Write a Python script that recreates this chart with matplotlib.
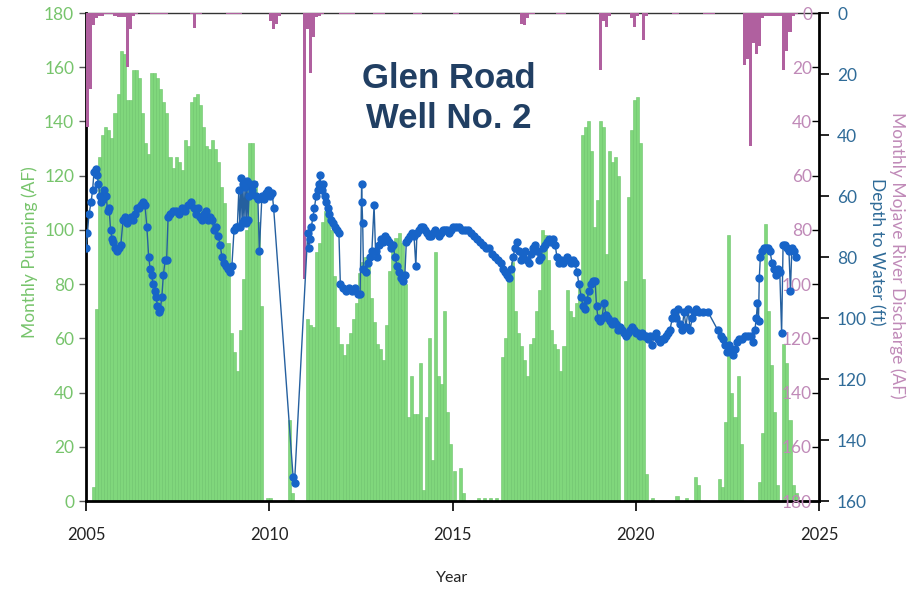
import numpy as np
import matplotlib.pyplot as plt

# Monthly pumping (AF), one list per year starting Jan
pump_2005 = [0, 0, 5, 71, 127, 135, 138, 137, 134, 143, 150, 166]
pump_2006 = [165, 148, 148, 159, 159, 156, 143, 132, 128, 158, 158, 156]
pump_2007 = [152, 147, 143, 127, 123, 127, 125, 122, 133, 131, 147, 149]
pump_2008 = [150, 146, 138, 131, 130, 133, 130, 125, 116, 110, 95, 62]
pump_2009 = [55, 48, 63, 82, 100, 132, 132, 118, 103, 72, 0, 1]
pump_2010 = [1, 0, 0, 0, 0, 0, 30, 3, 0, 0, 0, 0]
pump_2011 = [67, 65, 64, 92, 95, 103, 107, 105, 100, 83, 64, 58]
pump_2012 = [54, 58, 62, 67, 73, 84, 88, 90, 90, 75, 66, 58]
pump_2013 = [56, 52, 65, 85, 93, 97, 99, 95, 80, 31, 46, 32]
pump_2014 = [32, 51, 4, 31, 60, 15, 92, 46, 43, 70, 33, 21]
pump_2015 = [11, 0, 12, 3, 0, 0, 0, 0, 1, 0, 1, 0]
pump_2016 = [1, 0, 1, 0, 53, 60, 83, 88, 70, 62, 57, 52]
pump_2017 = [46, 58, 60, 70, 78, 100, 98, 89, 63, 58, 56, 48]
pump_2018 = [57, 78, 70, 68, 73, 80, 135, 138, 140, 129, 101, 111]
pump_2019 = [140, 138, 91, 129, 125, 127, 120, 0, 81, 112, 137, 148]
pump_2020 = [149, 132, 82, 10, 0, 1, 0, 0, 0, 0, 0, 0]
pump_2021 = [0, 2, 0, 0, 1, 0, 0, 9, 6, 0, 0, 0]
pump_2022 = [0, 0, 0, 8, 5, 29, 98, 40, 31, 46, 21, 0]
pump_2023 = [0, 0, 0, 0, 7, 25, 102, 70, 50, 33, 6, 0]
pump_2024 = [58, 51, 30, 6, 3]

# Monthly Mojave River discharge (AF)
flow_2005 = [42, 28, 4.5, 2, 1, 1, 0.5, 0.5, 0.5, 1, 1.5, 1.5]
flow_2006 = [1.5, 20, 6, 1, 0.5, 0, 0, 0, 0, 0.5, 0.5, 0.5]
flow_2007 = [0.5, 0.5, 0.5, 0, 0, 0, 0, 0, 0, 0, 0.5, 5.6]
flow_2008 = [0.5, 0.5, 0, 0, 0, 0, 0, 0, 0, 0, 0.5, 0.5]
flow_2009 = [0.5, 0.5, 0.5, 0, 0, 0, 0, 0, 0, 0, 0, 0]
flow_2010 = [3, 6, 4, 1, 0, 0, 0, 0, 0, 0, 0, 98]
flow_2011 = [6, 22, 9, 1.5, 1, 0.5, 0, 0, 0, 0, 0, 0.5]
flow_2012 = [0.5, 0.5, 0.5, 0.5, 0, 0, 0, 0, 0, 0, 0.5, 0.5]
flow_2013 = [0.5, 0.5, 0, 0, 0, 0, 0, 0, 0, 0, 0, 0.5]
flow_2014 = [0.5, 0.5, 0, 0, 0, 0, 0, 0, 0, 0, 0, 0]
flow_2015 = [0.5, 0.5, 0, 0, 0, 0, 0, 0, 0, 0, 0, 0]
flow_2016 = [0, 0, 0, 0, 0, 0, 0, 0, 0, 0, 4, 4.5]
flow_2017 = [2, 0.5, 0.5, 0, 0, 0, 0, 0, 0, 0, 0.5, 0.5]
flow_2018 = [0.5, 0, 0, 0, 0, 0, 0, 0, 0, 0, 0, 0]
flow_2019 = [21, 3, 5, 1, 0, 0, 0, 0, 0, 0, 2, 5]
flow_2020 = [1, 0, 10, 1, 0, 0, 0, 0, 0, 0, 0, 0]
flow_2021 = [0.5, 0.5, 0, 0, 0, 0, 0, 0, 0, 0, 0.5, 0.5]
flow_2022 = [0.5, 0.5, 0, 0, 0, 0, 0, 0, 0, 0, 0, 19]
flow_2023 = [17, 49, 11, 15, 12, 2, 1, 1, 1, 1, 1, 1]
flow_2024 = [21, 14, 7, 1, 0.5]

# Depth to water (ft) measurements
well_year = [
    2005.00, 2005.04, 2005.08, 2005.14, 2005.18, 2005.22, 2005.26, 2005.30, 2005.34, 2005.38,
    2005.42, 2005.46, 2005.50, 2005.55, 2005.59, 2005.63, 2005.67, 2005.71, 2005.75, 2005.79,
    2005.85, 2005.90, 2005.95, 2006.01, 2006.06, 2006.12, 2006.17, 2006.23, 2006.28, 2006.34,
    2006.39, 2006.45, 2006.50, 2006.56, 2006.61, 2006.66, 2006.71, 2006.75, 2006.79, 2006.83,
    2006.87, 2006.91, 2006.95, 2006.99, 2007.03, 2007.07, 2007.11, 2007.16, 2007.20, 2007.24,
    2007.29, 2007.37, 2007.46, 2007.54, 2007.62, 2007.70, 2007.78, 2007.86, 2007.95, 2008.00,
    2008.06, 2008.11, 2008.17, 2008.22, 2008.27, 2008.33, 2008.38, 2008.44, 2008.49, 2008.55,
    2008.60, 2008.66, 2008.71, 2008.77, 2008.82, 2008.88, 2008.93, 2008.98, 2009.04, 2009.09,
    2009.13, 2009.17, 2009.20, 2009.23, 2009.26, 2009.28, 2009.31, 2009.34, 2009.37, 2009.39,
    2009.42, 2009.45, 2009.47, 2009.53, 2009.58, 2009.64, 2009.69, 2009.73, 2009.80, 2009.86,
    2009.91, 2009.97, 2010.02, 2010.08, 2010.12, 2010.65, 2010.69,
    2011.05, 2011.08, 2011.11, 2011.15, 2011.19, 2011.23, 2011.28, 2011.32, 2011.36, 2011.38,
    2011.43, 2011.47, 2011.51, 2011.55, 2011.59, 2011.63, 2011.68, 2011.74, 2011.79, 2011.85,
    2011.90, 2011.94, 2012.01, 2012.09, 2012.18, 2012.26, 2012.34, 2012.42, 2012.48, 2012.52,
    2012.53, 2012.55, 2012.57, 2012.64, 2012.69, 2012.75, 2012.80, 2012.86, 2012.90, 2012.94,
    2012.99, 2013.05, 2013.10, 2013.16, 2013.21, 2013.27, 2013.32, 2013.38, 2013.43, 2013.49,
    2013.54, 2013.59, 2013.65, 2013.70, 2013.74, 2013.79, 2013.84, 2013.89, 2013.95, 2014.00,
    2014.03, 2014.09, 2014.14, 2014.19, 2014.25, 2014.30, 2014.36, 2014.41, 2014.47, 2014.52,
    2014.58, 2014.63, 2014.69, 2014.74, 2014.80, 2014.85, 2014.90, 2014.96,
    2015.01, 2015.10, 2015.18, 2015.26, 2015.34, 2015.42, 2015.50, 2015.59, 2015.67, 2015.75,
    2015.83, 2015.91, 2016.00, 2016.08, 2016.16, 2016.24, 2016.32, 2016.38, 2016.43, 2016.49,
    2016.54, 2016.60, 2016.65, 2016.71, 2016.76, 2016.82, 2016.87, 2016.92, 2016.98, 2017.03,
    2017.09, 2017.14, 2017.20, 2017.25, 2017.31, 2017.36, 2017.41, 2017.47, 2017.52, 2017.58,
    2017.63, 2017.69, 2017.74, 2017.80, 2017.85, 2017.91, 2017.96, 2018.01, 2018.07, 2018.12,
    2018.18, 2018.23, 2018.28, 2018.34, 2018.40, 2018.45, 2018.51, 2018.56, 2018.61, 2018.67,
    2018.72, 2018.78, 2018.83, 2018.89, 2018.93, 2018.97, 2019.02, 2019.08, 2019.13, 2019.19,
    2019.24, 2019.30, 2019.35, 2019.41, 2019.46, 2019.52, 2019.57, 2019.63, 2019.68, 2019.73,
    2019.79, 2019.84, 2019.90, 2019.95, 2020.01, 2020.06, 2020.12, 2020.17, 2020.22, 2020.28,
    2020.33, 2020.39, 2020.44, 2020.50, 2020.55, 2020.61, 2020.66, 2020.72, 2020.77, 2020.83,
    2020.88, 2020.93, 2021.00, 2021.05, 2021.10, 2021.15, 2021.21, 2021.26, 2021.32, 2021.37,
    2021.43, 2021.48, 2021.54, 2021.59, 2021.64, 2021.73, 2021.84, 2021.97, 2022.24, 2022.33,
    2022.38, 2022.43, 2022.49, 2022.54, 2022.60, 2022.65, 2022.71, 2022.76, 2022.82, 2022.90,
    2022.98, 2023.06, 2023.14, 2023.20, 2023.25, 2023.29, 2023.32, 2023.35, 2023.37, 2023.40,
    2023.44, 2023.49, 2023.55, 2023.61, 2023.66, 2023.72, 2023.77, 2023.83, 2023.88, 2023.93,
    2023.98, 2024.02, 2024.07, 2024.13, 2024.18, 2024.22, 2024.26, 2024.32, 2024.37,
]
well_depth = [
    77, 72, 66, 62, 58, 52, 51, 53, 56, 60,
    62, 61, 58, 60, 65, 64, 71, 74, 75, 77,
    78, 77, 76, 68, 67, 69, 68, 67, 68, 66,
    64, 64, 63, 62, 63, 70, 80, 84, 86, 89,
    91, 93, 96, 98, 97, 93, 86, 81, 81, 67,
    66, 65, 65, 66, 64, 65, 63, 62, 64, 66,
    64, 67, 68, 66, 65, 68, 67, 68, 71, 70,
    73, 76, 80, 82, 83, 84, 85, 83, 71, 70,
    70, 58, 70, 54, 69, 56, 68, 57, 69, 55,
    68, 60, 56, 58, 56, 60, 61, 78, 60, 61,
    59, 58, 60, 59, 64, 152, 154,
    72, 77, 74, 70, 67, 64, 60, 58, 56, 53,
    58, 56, 60, 62, 64, 66, 68, 69, 70, 71,
    72, 89, 90, 91, 90, 91, 90, 92, 92, 56,
    62, 69, 84, 85, 82, 80, 78, 63, 78, 80,
    76, 74, 75, 73, 74, 75, 77, 76, 80, 83,
    85, 87, 88, 86, 75, 74, 73, 72, 73, 83,
    72, 71, 70, 70, 71, 72, 73, 73, 72, 71,
    72, 73, 72, 71, 71, 71, 72, 71,
    70, 70, 70, 71, 71, 71, 72, 73, 74, 75,
    76, 77, 77, 79, 80, 81, 82, 84, 85, 86,
    87, 84, 80, 77, 75, 78, 81, 80, 78, 81,
    82, 79, 77, 76, 78, 81, 80, 77, 76, 75,
    74, 75, 74, 76, 80, 82, 81, 82, 81, 80,
    81, 82, 81, 82, 85, 89, 93, 96, 97, 94,
    91, 89, 88, 88, 96, 100, 101, 100, 95, 99,
    100, 101, 102, 101, 102, 104, 103, 104, 105, 106,
    105, 104, 103, 104, 105, 105, 106, 105, 106, 106,
    107, 106, 109, 106, 105, 107, 108, 107, 107, 106,
    105, 104, 100, 98, 100, 97, 102, 104, 98, 103,
    97, 104, 100, 98, 97, 98, 98, 98, 104, 106,
    107, 109, 111, 109, 110, 112, 110, 108, 107, 107,
    106, 106, 106, 108, 104, 100, 95, 101, 87, 80,
    78, 77, 77, 77, 78, 82, 84, 86, 84, 85,
    105, 76, 76, 77, 78, 91, 77, 78, 80,
]

pumping = (pump_2005 + pump_2006 + pump_2007 + pump_2008 + pump_2009 + pump_2010 + pump_2011
           + pump_2012 + pump_2013 + pump_2014 + pump_2015 + pump_2016 + pump_2017 + pump_2018
           + pump_2019 + pump_2020 + pump_2021 + pump_2022 + pump_2023 + pump_2024)
discharge = (flow_2005 + flow_2006 + flow_2007 + flow_2008 + flow_2009 + flow_2010 + flow_2011
             + flow_2012 + flow_2013 + flow_2014 + flow_2015 + flow_2016 + flow_2017 + flow_2018
             + flow_2019 + flow_2020 + flow_2021 + flow_2022 + flow_2023 + flow_2024)

# colours
green = '#80d77c'
green_txt = '#77c46c'
purple = '#b0609f'
purple_txt = '#c08ab8'
blue = '#1764c8'
blue_txt = '#2f6b98'
title_col = '#213f63'

plt.rcParams['font.family'] = ['Lato', 'DejaVu Sans']

fig = plt.figure(figsize=(9.15, 5.9), dpi=100)
ax = fig.add_axes([86/915, 1 - 501/590, (819 - 86)/915, (501 - 13)/590])

# pumping bars
xp = 2005 + (np.arange(len(pumping)) + 0.5)/12
ax.bar(xp, pumping, width=1/12, color=green, edgecolor='#6cc46a', linewidth=0.4, zorder=2)
ax.set_xlim(2005, 2025)
ax.set_ylim(0, 180)
ax.set_yticks(range(0, 181, 20))
ax.set_xticks(range(2005, 2026, 5))
ax.tick_params(axis='y', colors='#555555', labelcolor=green_txt, labelsize=12.5, length=5, width=1)
ax.tick_params(axis='x', labelcolor='#222222', labelsize=12, length=7, width=1.2, pad=12)
ax.spines['right'].set_visible(False)
ax.spines['left'].set_linewidth(2)
ax.spines['bottom'].set_linewidth(2)
ax.spines['top'].set_linewidth(1)
ax.spines['top'].set_color('#333333')
ax.set_xlabel('Year', fontsize=11.5, color='#222222', labelpad=20)

# river discharge bars hanging from the top
axq = ax.twinx()
xq = 2005 + (np.arange(len(discharge)) + 0.5)/12
axq.bar(xq, discharge, width=1/12, color=purple, linewidth=0, zorder=2)
axq.set_ylim(180, 0)
axq.set_yticks(range(0, 181, 20))
axq.tick_params(axis='y', direction='in', length=5, width=1, pad=-5,
                labelcolor=purple_txt, labelsize=12.5)
plt.setp(axq.get_yticklabels(), ha='right')
for s in ['left', 'top', 'bottom', 'right']:
    axq.spines[s].set_visible(False)

# depth to water line
axd = ax.twinx()
axd.plot(well_year, well_depth, '-', color='#25609f', lw=1.0, zorder=3)
axd.plot(well_year, well_depth, 'o', color=blue, ms=5, mec=blue, zorder=4)
axd.set_ylim(160, 0)
axd.set_yticks(range(0, 161, 20))
axd.tick_params(axis='y', direction='out', length=7, width=1.2, pad=6,
                labelcolor=blue_txt, labelsize=12.5)
for s in ['left', 'top', 'bottom']:
    axd.spines[s].set_visible(False)
axd.spines['right'].set_linewidth(2)

ax.text(0.495, 0.825, 'Glen Road\nWell No. 2', transform=ax.transAxes, ha='center', va='center',
        fontsize=25, fontweight='bold', color=title_col, family='Liberation Sans', linespacing=1.25)

fig.text(30/915, 1 - 252/590, 'Monthly Pumping (AF)', rotation=90, ha='center', va='center',
         fontsize=12.5, color=green_txt)
fig.text(877/915, 1 - 252/590, 'Depth to Water (ft)', rotation=270, ha='center', va='center',
         fontsize=12.5, color=blue_txt)
fig.text(897/915, 1 - 255/590, 'Monthly Mojave River Discharge (AF)', rotation=270, ha='center',
         va='center', fontsize=12.5, color=purple_txt)

fig.savefig('out.png', dpi=100)
